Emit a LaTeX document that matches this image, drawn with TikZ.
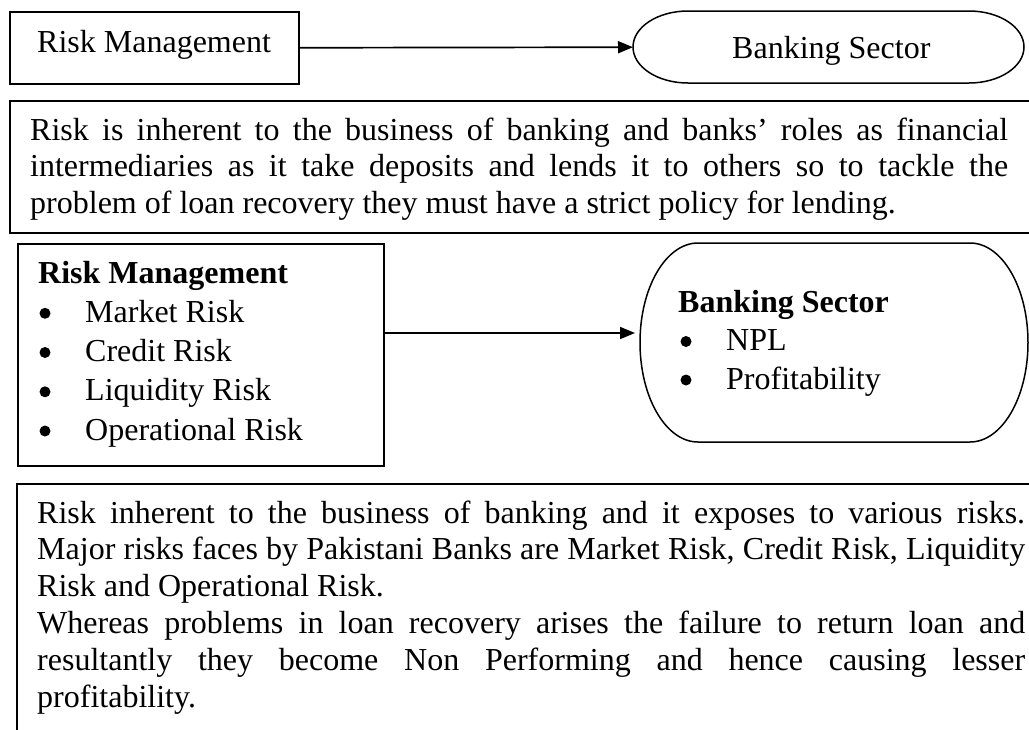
\documentclass[tikz,border=0pt]{standalone}
\usepackage{fontspec}
\setmainfont{Liberation Serif}
\usetikzlibrary{arrows.meta}
\tikzset{
  box/.style={draw, line width=1.5pt, inner sep=0pt, anchor=north west},
  hold/.style={inner sep=0pt, anchor=north west},
  txt/.style={inner sep=0pt, anchor=base west, font=\fontsize{32}{36.8}\selectfont},
  btxt/.style={inner sep=0pt, anchor=base west, font=\fontsize{32}{36.8}\selectfont\bfseries},
  bul/.style={circle, fill=black, inner sep=0pt, minimum size=11pt},
  oval/.style={line width=1.5pt},
  arr/.style={line width=1.7pt, -{Triangle[length=15pt,width=12pt]}}
}
\begin{document}
\begin{tikzpicture}[x=1pt,y=1pt]
\useasboundingbox (0,0) rectangle (1029,-729);
\clip (0,0) rectangle (1029,-729);

% top row
\node[box, minimum width=289pt, minimum height=72pt] (rm1) at (9,-11) {};
\node[txt] (rm1t) at (37,-52) {Risk Management};
\node[hold, minimum width=391pt, minimum height=72pt] (bs1) at (633,-11) {};
\draw[oval] (688,-11) -- (969,-11) arc[start angle=90,end angle=-90,x radius=55,y radius=36]
  -- (688,-83) arc[start angle=270,end angle=90,x radius=55,y radius=36] -- cycle;
\node[txt] (bs1t) at (732,-58) {Banking Sector};
\draw[arr] (rm1.east) -- (bs1.west);

% paragraph 1
\node[box, minimum width=1040pt, minimum height=132pt] (p1) at (9,-100) {};
\node[txt] (p1a) at (30,-140) {\makebox[978pt][s]{Risk is inherent to the business of banking and banks’ roles as financial}};
\node[txt] (p1b) at (30,-176.8) {\makebox[978pt][s]{intermediaries as it take deposits and lends it to others so to tackle the}};
\node[txt] (p1c) at (30,-213.6) {problem of loan recovery they must have a strict policy for lending.};

% middle row
\node[box, minimum width=366pt, minimum height=222pt] (rm2) at (17,-243) {};
\node[btxt] (rm2t) at (38,-283) {Risk Management};
\node[bul] (b1) at (45,-313.3) {};
\node[txt] (i1) at (85,-322.3) {Market Risk};
\node[bul] (b2) at (45,-352.5) {};
\node[txt] (i2) at (85,-361.5) {Credit Risk};
\node[bul] (b3) at (45,-391.8) {};
\node[txt] (i3) at (85,-400.8) {Liquidity Risk};
\node[bul] (b4) at (45,-431) {};
\node[txt] (i4) at (85,-440) {Operational Risk};

\node[hold, minimum width=388pt, minimum height=199pt] (bs2) at (640,-243) {};
\draw[oval] (698,-243) -- (970,-243) arc[start angle=90,end angle=-90,x radius=58,y radius=99.5]
  -- (698,-442) arc[start angle=270,end angle=90,x radius=58,y radius=99.5] -- cycle;
\node[btxt] (bs2t) at (678,-312) {Banking Sector};
\node[bul] (b5) at (686,-341.5) {};
\node[txt] (j1) at (726,-350.5) {NPL};
\node[bul] (b6) at (686,-380) {};
\node[txt] (j2) at (726,-389) {Profitability};
\draw[arr, shorten >=5pt] (rm2.east |- 0,-333) -- (bs2.west |- 0,-333);

% paragraph 2
\node[box, minimum width=1040pt, minimum height=300pt] (p2) at (16,-483) {};
\node[txt] (p2a) at (37,-523) {\makebox[988pt][s]{Risk inherent to the business of banking and it exposes to various risks.}};
\node[txt] (p2b) at (37,-559.8) {\makebox[988pt][s]{Major risks faces by Pakistani Banks are Market Risk, Credit Risk, Liquidity}};
\node[txt] (p2c) at (37,-596.6) {Risk and Operational Risk.};
\node[txt] (p2d) at (37,-633.4) {\makebox[988pt][s]{Whereas problems in loan recovery arises the failure to return loan and}};
\node[txt] (p2e) at (37,-670.2) {\makebox[988pt][s]{resultantly they become Non Performing and hence causing lesser}};
\node[txt] (p2f) at (37,-707) {profitability.};
\end{tikzpicture}
\end{document}
